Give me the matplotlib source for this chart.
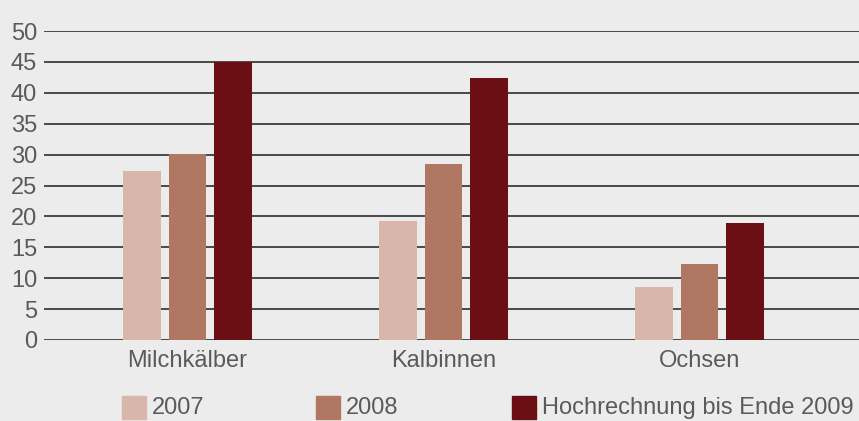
import matplotlib
matplotlib.use("Agg")
import matplotlib.pyplot as plt
from matplotlib.patches import Rectangle

categories = ["Milchkälber", "Kalbinnen", "Ochsen"]
series_names = ["2007", "2008", "Hochrechnung bis Ende 2009"]
values_2007 = [27.3, 19.3, 8.6]
values_2008 = [30.1, 28.5, 12.3]
values_2009 = [45.0, 42.4, 18.9]
yticks = [0, 5, 10, 15, 20, 25, 30, 35, 40, 45, 50]

colors = ["#d9b6aa", "#b07763", "#6b0f15"]
bg = "#ebeceb"
txt = "#5a5a5a"
plt.rcParams['font.family'] = ['Liberation Sans', 'DejaVu Sans']

W, H = 859, 421
fig = plt.figure(figsize=(W / 100, H / 100), dpi=100, facecolor=bg)
ax = fig.add_axes([44 / W, (H - 340) / H, (W - 44) / W, (340 - 31) / H])
ax.set_facecolor(bg)

for y in yticks:
    ax.axhline(y, color="#3c3c3c", lw=1.3, zorder=1)

x = list(range(len(categories)))
bw = 0.148
off = 0.178
series = [values_2007, values_2008, values_2009]
for i, vals in enumerate(series):
    ax.bar([xi + (i - 1) * off for xi in x], vals, width=bw, color=colors[i], zorder=2)

ax.set_xlim(-0.5605, 2.623)
ax.set_ylim(0, 50)
for s in ax.spines.values():
    s.set_visible(False)
ax.set_yticks(yticks)
ax.set_yticklabels([str(v) for v in yticks], fontsize=17, color=txt)
ax.tick_params(axis='y', length=0, pad=5)
ax.set_xticks(x)
ax.set_xticklabels(categories, fontsize=17, color=txt)
ax.tick_params(axis='x', length=0, pad=7)

# legend
leg_x = [122, 316, 512]
for i, name in enumerate(series_names):
    fig.patches.append(Rectangle((leg_x[i] / W, (H - 419) / H), 24 / W, 23 / H,
                                 transform=fig.transFigure, color=colors[i]))
    fig.text((leg_x[i] + 30) / W, (H - 408) / H, name, fontsize=17, color=txt,
             va='center', ha='left')

fig.savefig("out.png", dpi=100, facecolor=bg)
